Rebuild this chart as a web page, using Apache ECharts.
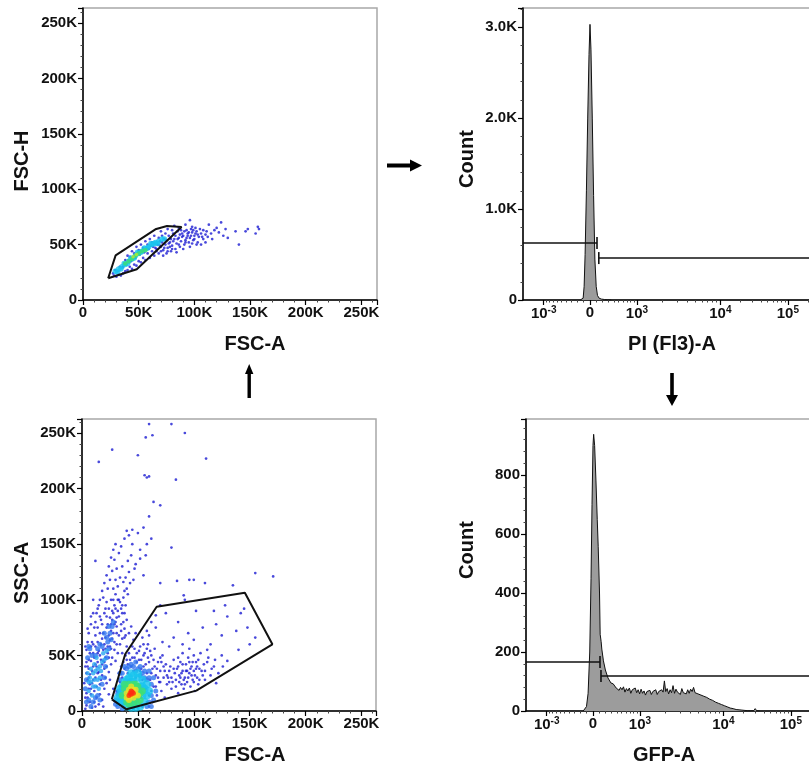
<!DOCTYPE html>
<html><head><meta charset="utf-8">
<script src="https://cdn.jsdelivr.net/npm/echarts@6/dist/echarts.min.js"></script>
<style>html,body{margin:0;padding:0;background:#fff}#c{width:809px;height:769px}</style>
</head><body><div id="c"></div>
<script>
const FONT = '"Liberation Sans", Arial, Helvetica, sans-serif';

// ---------- tick definitions (biexponential axes, in transformed channel units) ----------
const biexTickChannel = [-1.42, 0, 1.44, 4.0, 6.07];
const biexTickLabels = [['10', '-3'], ['0', ''], ['10', '3'], ['10', '4'], ['10', '5']];
const linearMinorValues = [-900,-800,-700,-600,-500,-400,-300,-200,-100,100,200,300,400,500,600,700,800,900];
const decadeMinorMultipliers = [2,3,4,5,6,7,8,9];

// ---------- Panel 1: FSC-H vs FSC-A (values in K) ----------
const p1Low = [27,24,29,27,31,26,33,30,35,29,37,33,39,32,41,36,43,35,45,39,47,38,49,42,51,41,53,44,55,43,57,47,59,46,61,49,63,48,65,51,67,50,69,53,71,52,73,55,75,54,62,44,66,46,68,42,70,48,72,45,74,50,76,47,78,52,80,49,82,55,84,51,86,56,88,53,90,58,92,54,94,60,96,56,98,61,100,58,102,62,104,57,106,60,108,55,110,59,77,58,81,60,85,62,89,60,93,63,97,64,101,65,105,64,64,40,60,38,58,42,56,36,54,38,52,34,50,35,48,31,46,32,44,28,42,30,40,27,38,26,36,24,34,22,32,23,30,21,28,22,79,44,83,46,87,48,91,50,95,52,99,54,103,52,72,40,75,42,68,56,74,60,80,63,86,65,92,68,96,72,98,66,113,68,115,60,118,63,120,65,122,61,126,58,130,56,137,62,140,50,146,62,148,64,158,64,157,66,155,60,110,52,106,50,66,44,70,44,62,52,58,50,54,47,50,45,46,42,42,39,38,36,36,30,40,40,44,44,48,48,52,50,56,53,60,55,64,58,70,62,76,64,82,67,88,63,94,58,100,55,78,48,84,43,90,46,96,48,102,50,108,63,112,57,116,55,124,70,128,64,
  73,47,77,51,81,53,85,55,89,57,93,56,97,58,101,60,69,49,65,47,71,58,79,55,83,58,87,59,91,62,95,61,99,63,103,59,107,57,111,62,76,44,80,46,86,50,92,52,98,51];
const p1Mid = [29,26,32,28,35,30,38,32,41,35,44,37,47,40,50,42,53,44,56,46,59,48,62,50,65,52,68,53,71,55,34,28,40,33,46,38,52,43,58,47,64,51,37,33,43,38,49,43,55,47,61,51,31,25,67,51,73,55];
const p1High = [38,33,41,35,44,37,47,40,50,42,53,44,56,45];
const p1Top = [45,39,48,41];
const p1Gate = [22.6,19.6, 29.3,40.3, 65,63.8, 75.4,66.8, 88.5,65.9, 48.3,27.7];

// ---------- Panel 3: SSC-A vs FSC-A (values in K) ----------
const p3Low = [4,5,5,12,6,20,5,28,7,8,8,15,7,33,9,25,10,40,6,38,8,45,11,18,12,30,10,52,13,22,14,44,12,58,15,35,16,50,14,62,17,28,18,42,16,70,19,55,20,38,18,65,21,48,22,75,20,60,23,52,24,68,22,85,25,58,26,78,24,92,27,65,28,88,26,72,29,95,30,80,28,100,31,70,32,90,30,105,33,85,34,98,32,112,35,78,36,95,34,120,37,102,38,88,36,130,40,110,39,95,42,125,44,140,41,105,46,118,48,132,45,150,50,160,52,145,55,165,58,150,60,175,57,140,62,155,64,188,70,185,56,212,58,210,60,211,84,208,50,230,63,248,92,250,27,235,15,224,111,227,12,135,10,100,8,85,6,70,3,2,4,16,7,52,9,62,11,75,13,88,15,95,17,82,19,102,21,92,23,110,25,118,27,126,29,136,31,128,33,142,35,148,38,155,40,162,43,115,47,128,52,137,55,122,11,8,13,12,15,6,16,15,18,10,20,20,22,25,21,30,24,35,26,42,25,28,27,48,29,55,30,45,31,60,32,52,33,68,34,60,35,72,36,65,37,80,38,74,39,68,40,82,3,40,4,55,5,62,9,3,12,4,2,25,19,4,24,15,28,20,80,147,70,115,85,117,100,118,110,115,135,113,155,124,171,121,45,163,42,158,60,258,80,258,57,246,96,118,91,104,
14,52,17,60,19,45,21,66,23,58,25,84,27,90,29,78,30,92,31,84,33,100,35,92,26,100,28,110,30,118,32,100,22,98,20,88,18,78,16,85,14,75,12,68,10,60,8,58,6,46,4,34,5,40,3,12,7,24,9,36,11,48,13,40,15,54,17,46,19,70,21,56,23,78,25,64,27,82,29,62,31,76,24,48,26,56,28,70,36,88,38,108,39,120,41,135,37,116,
32,8,34,14,35,22,36,30,37,6,38,18,38,38,39,26,40,46,40,10,41,34,42,4,42,52,43,28,44,40,45,6,45,58,46,36,47,48,48,8,48,30,49,44,50,4,50,24,51,54,52,36,53,12,53,46,54,28,55,40,56,6,56,52,57,20,58,34,59,60,60,14,60,44,61,28,62,50,63,8,63,38,64,22,65,56,66,32,67,14,68,44,69,26,70,36,71,18,72,50,73,30,74,12,75,42,76,24,78,36,80,20,82,46,84,28,85,38,86,16,87,32,88,44,89,24,90,36,91,20,92,30,93,42,94,26,95,48,96,34,97,22,98,40,99,28,100,36,101,18,102,44,103,30,104,24,105,38,106,52,108,32,110,28,112,44,72,62,78,58,82,66,90,60,95,70,86,80,100,64,108,75,115,60,120,78,125,68,130,85,138,72,142,88,148,75,150,60,155,66,118,90,128,95,102,90,92,100,75,88,66,75,60,68,70,95,145,92,140,55,125,50,118,40,130,45,112,55,115,32,120,25,
83,34,86,40,88,30,90,42,92,24,94,36,96,44,98,32,100,26,102,38,104,46,81,26,79,40,77,30,74,36,71,44,68,30,65,40,62,34,59,48,57,42,55,50,53,38,51,46,49,52,47,56,45,48,43,46,41,42,39,50,37,44,35,40,33,34,34,26,31,18,33,10,58,8,62,18,66,22,70,26,60,4,54,4,46,2,38,3,
84,22,87,26,89,34,91,28,93,36,95,30,97,38,99,44,101,32,103,40,105,28,107,36,109,42,82,38,80,30,78,26,76,32,73,40,70,48,67,38,64,46,61,54,58,56,55,60,52,58,46,64,40,58,36,52,38,66,42,70,44,76,48,70,54,66,58,72,62,80,66,86,110,36,113,48,116,38,119,46,122,34,126,40,100,50,96,56,90,52,86,48,22,40,20,44,18,32,16,24,14,34,12,42,10,28,8,20,6,30,4,44,3,58,5,74,8,78,10,88,12,80,14,92,16,100,18,108,20,115,22,122,24,130,26,138,28,145,30,150];
const p3Halo = [30,10,32,4,33,18,34,28,36,34,38,40,40,38,42,40,44,42,46,40,48,36,50,38,52,32,54,34,56,30,58,28,60,30,62,24,62,14,64,10,60,8,58,4,62,4,36,2,32,16,30,6,56,36,52,40,48,44,60,36,64,30,66,18,34,34,
  4,8,3,20,4,28,6,10,8,4,5,48,7,56,9,50,10,8,12,12,14,14,16,10,18,24,20,30,21,40,22,48,23,62,24,56,25,70,26,64,18,58,16,60,14,56,12,50,20,70,22,66,27,76,28,80,24,76,6,58];
const p3DebrisCore = [6,18,8,26,10,34,12,22,14,38,16,30,9,14,11,42,14,28,7,30,18,44,13,48,17,36,10,22,15,20,19,52,8,38,12,36,20,46,22,54,6,26,5,34,11,28,16,40];
const p3Mid = [32,12,34,20,36,8,38,26,40,4,42,30,46,32,50,30,54,28,56,20,58,14,56,8,52,4,48,3,44,3,36,16,38,10,46,26,52,22,40,20,48,10,54,14,34,8,58,24,44,34,40,28,36,22,50,34,54,22,60,18,42,8,46,6,50,18,44,26,34,14];
const p3High = [36,14,38,20,40,8,42,24,46,24,50,22,52,16,50,8,46,7,40,14,44,20,48,14,38,24,54,18,48,24,42,6,52,10];
const p3Top = [40,12,42,19,46,19,48,19,46,12,42,10,44,14,48,15,40,16,44,22,50,14];
const p3Peak = [43,16,45,17,44,15,42,14,46,16,44,18];
const p3Gate = [26.7,10.5, 38.7,51.3, 66.8,93.8, 145.7,106.4, 170.3,60, 102.3,18.3, 39.8,1.5];

// ---------- Panel 2: PI histogram (transformed channel, count) ----------
const piChannel = [-0.30,-0.25,-0.21,-0.18,-0.15,-0.11,-0.07,-0.03,0,0.03,0.07,0.11,0.15,0.19,0.23,0.28,0.35,0.45,0.55,0.65];
const piCount   = [0,0,20,150,500,1200,2000,2700,3030,2750,2000,1150,450,150,50,20,10,5,3,0];
const piGateNeg = [-2.06, 0.215, 626];
const piGatePos = [0.27, 8, 461];

// ---------- Panel 4: GFP histogram (transformed channel, count) ----------
const gfpChannel = [-0.30,-0.25,-0.20,-0.15,-0.10,-0.06,-0.03,0,0.02,0.05,0.09,0.13,0.16,0.20,0.22,0.25,0.27,0.32,0.38,0.46,0.55,
 0.62,0.665,0.71,0.755,0.80,0.845,0.89,0.935,0.98,1.025,1.07,1.115,1.16,1.205,1.25,1.295,1.34,1.385,1.43,1.475,1.52,1.565,1.61,1.655,1.70,1.745,1.79,1.835,1.88,1.925,1.97,2.015,2.06,2.105,2.15,2.19,2.23,2.275,2.32,2.365,2.41,2.455,2.50,2.545,2.59,2.635,2.68,2.725,2.77,2.815,2.86,2.905,2.95,2.995,3.04,3.085,3.13,3.175,3.22,3.265,3.31,3.355,3.40,3.445,3.49,3.535,3.58,3.625,3.67,3.715,3.76,3.805,3.85,3.895,3.94,3.985,4.03,4.075,4.12,4.165,4.21,4.255,4.30,4.345,4.39,4.435,4.48,4.525,4.57,4.615,4.66,4.705,4.75,4.795,4.84,4.885,4.93,4.975,5.02,5.065,5.11];
const gfpCount = [0,2,15,60,200,450,700,900,938,900,783,650,557,400,260,235,210,170,139,112,95,
 92,96,78,84,70,80,72,82,64,76,68,78,60,72,66,78,62,72,58,74,60,68,54,66,60,70,56,66,60,72,56,66,62,72,64,102,66,76,58,72,62,86,60,74,64,70,56,76,62,68,58,72,60,74,66,80,62,68,58,62,54,58,50,54,46,48,40,44,36,38,30,32,26,28,22,24,18,20,14,15,10,12,8,9,5,7,4,6,3,4,2,3,1,2,1,2,1,8,1,1,0];
const gfpGateNeg = [-2.06, 0.215, 166];
const gfpGatePos = [0.245, 8, 119];

// ---------- helpers ----------
const pairs = f => { const o = []; for (let i = 0; i < f.length; i += 2) o.push([f[i], f[i + 1]]); return o; };
const closed = f => { const p = pairs(f); p.push(p[0]); return p; };
const zip = (a, b) => a.map((v, i) => [v, b[i]]);
const majorPos = biexTickChannel;
// minor ticks: arcsinh spacing in the linear zone, log spacing within each decade
const minorPos = linearMinorValues.map(v => Math.asinh(v / 500));
[[2, 3], [3, 4]].forEach(([a, b]) => decadeMinorMultipliers.forEach(m =>
  minorPos.push(majorPos[a] + (majorPos[b] - majorPos[a]) * Math.log10(m))));
minorPos.push(majorPos[4] + (majorPos[4] - majorPos[3]) * Math.log10(2));

const lab = {fontFamily: FONT, fontWeight: 'bold', fontSize: 15, color: '#111'};
const axisLineBlack = {show: true, onZero: false, lineStyle: {color: '#000', width: 1.5}};

function linX(grid, max) {
  return {gridIndex: grid, type: 'value', min: 0, max: max, interval: 50,
    axisLine: axisLineBlack, splitLine: {show: false},
    axisTick: {length: 5, lineStyle: {color: '#000', width: 1.2}},
    minorTick: {show: true, splitNumber: 5, length: 2.5, lineStyle: {color: '#444'}},
    axisLabel: Object.assign({margin: 5, showMaxLabel: false, formatter: v => v === 0 ? '0' : v + 'K'}, lab)};
}
function linY(grid, max, interval, fmt) {
  return {gridIndex: grid, type: 'value', min: 0, max: max, interval: interval,
    axisLine: axisLineBlack, splitLine: {show: false},
    axisTick: {length: 5, lineStyle: {color: '#000', width: 1.2}},
    minorTick: {show: true, splitNumber: 5, length: 2.5, lineStyle: {color: '#444'}},
    axisLabel: Object.assign({margin: 6, showMaxLabel: false, formatter: fmt}, lab)};
}
function biexLabel(v) {
  const i = majorPos.findIndex(p => Math.abs(p - v) < 1e-6);
  if (i < 0) return '';
  const t = biexTickLabels[i];
  return t[1] ? '{b|' + t[0] + '}{s|' + t[1] + '}' : '{b|' + t[0] + '}';
}
function biexX(grid) {
  return [{gridIndex: grid, type: 'value', min: -2.055, max: 7.147, position: 'bottom',
    axisLine: axisLineBlack, splitLine: {show: false},
    axisTick: {customValues: majorPos, length: 5, lineStyle: {color: '#000', width: 1.2}},
    axisLabel: {customValues: majorPos, margin: 5, formatter: biexLabel,
      rich: {b: Object.assign({}, lab), s: Object.assign({}, lab, {fontSize: 10, padding: [0, 0, 8, 0]})}}},
   {gridIndex: grid, type: 'value', min: -2.055, max: 7.147, position: 'bottom',
    axisLine: {show: false, onZero: false}, splitLine: {show: false}, axisLabel: {show: false},
    axisTick: {customValues: minorPos, length: 2.5, lineStyle: {color: '#444', width: 1}}}];
}

function dots(xi, yi, flat, color, size, z) {
  return {type: 'scatter', xAxisIndex: xi, yAxisIndex: yi, data: pairs(flat), symbolSize: size,
    itemStyle: {color: color}, silent: true, z: z, animation: false};
}
function poly(xi, yi, flat) {
  return {type: 'line', xAxisIndex: xi, yAxisIndex: yi, data: closed(flat), showSymbol: false,
    lineStyle: {color: '#111', width: 2}, silent: true, z: 10, animation: false};
}
function hist(xi, yi, xs, ys) {
  return {type: 'line', xAxisIndex: xi, yAxisIndex: yi, data: zip(xs, ys), showSymbol: false,
    lineStyle: {color: '#111', width: 1}, areaStyle: {color: '#9c9c9c', opacity: 1},
    silent: true, z: 3, animation: false};
}
function gate(xi, yi, g) {
  return {type: 'line', xAxisIndex: xi, yAxisIndex: yi, data: [[g[0], g[2]], [g[1], g[2]]],
    symbol: 'rect', symbolSize: [1.6, 12], showSymbol: true, itemStyle: {color: '#111'},
    lineStyle: {color: '#111', width: 1.5}, silent: true, z: 8, animation: false};
}

const C_BLUE = '#1c1cd2', C_HALO = '#2f74ee', C_LBLUE = '#2aa6f0', C_CYAN = '#19c4ee', C_GREEN = '#3fe070', C_YEL = '#f0e020', C_RED = '#ff2a10';

const gridBase = {show: true, borderColor: '#a8a8a8', borderWidth: 1.5, containLabel: false, outerBoundsMode: 'none'};
const option = {
  animation: false,
  backgroundColor: '#fff',
  grid: [
    Object.assign({left: 83, top: 8, width: 294, height: 292}, gridBase),
    Object.assign({left: 523, top: 8, width: 300, height: 292}, gridBase),
    Object.assign({left: 82, top: 419, width: 294, height: 292}, gridBase),
    Object.assign({left: 526, top: 419, width: 300, height: 292}, gridBase)
  ],
  // xAxis indices: 0 panel1, 1-2 panel2, 3 panel3, 4-5 panel4
  xAxis: [linX(0, 264)].concat(biexX(1), [linX(2, 263)], biexX(3)),
  yAxis: [
    linY(0, 263.5, 50, v => v === 0 ? '0' : v + 'K'),
    linY(1, 3210, 1000, v => v === 0 ? '0' : (v / 1000).toFixed(1) + 'K'),
    linY(2, 262.6, 50, v => v === 0 ? '0' : v + 'K'),
    linY(3, 990, 200, v => String(v))
  ],
  series: [
    dots(0, 0, p1Low, C_BLUE, 2.7, 2),
    dots(0, 0, p1Mid, C_CYAN, 5.5, 3),
    dots(0, 0, p1High, C_GREEN, 4.5, 4),
    dots(0, 0, p1Top, '#b8e830', 3.5, 5),
    poly(0, 0, p1Gate),

    hist(1, 1, piChannel, piCount),
    gate(1, 1, piGateNeg),
    gate(1, 1, piGatePos),

    dots(3, 2, p3Low, C_BLUE, 2.7, 2),
    dots(3, 2, p3Halo, C_HALO, 5, 2),
    dots(3, 2, p3DebrisCore, C_LBLUE, 4.5, 3),
    dots(3, 2, p3Mid, C_CYAN, 8, 3),
    dots(3, 2, p3High, C_GREEN, 7, 4),
    dots(3, 2, p3Top, C_YEL, 6, 5),
    dots(3, 2, p3Peak, C_RED, 5, 6),
    poly(3, 2, p3Gate),

    hist(4, 3, gfpChannel, gfpCount),
    gate(4, 3, gfpGateNeg),
    gate(4, 3, gfpGatePos)
  ],
  graphic: [
    {type: 'text', x: 22, y: 161, rotation: Math.PI / 2, style: {text: 'FSC-H', font: 'bold 20px ' + FONT, fill: '#111', align: 'center', verticalAlign: 'middle'}},
    {type: 'text', x: 255, y: 344, style: {text: 'FSC-A', font: 'bold 20px ' + FONT, fill: '#111', align: 'center', verticalAlign: 'middle'}},
    {type: 'text', x: 467, y: 159, rotation: Math.PI / 2, style: {text: 'Count', font: 'bold 20px ' + FONT, fill: '#111', align: 'center', verticalAlign: 'middle'}},
    {type: 'text', x: 672, y: 344, style: {text: 'PI (Fl3)-A', font: 'bold 20px ' + FONT, fill: '#111', align: 'center', verticalAlign: 'middle'}},
    {type: 'text', x: 22, y: 573, rotation: Math.PI / 2, style: {text: 'SSC-A', font: 'bold 20px ' + FONT, fill: '#111', align: 'center', verticalAlign: 'middle'}},
    {type: 'text', x: 255, y: 755, style: {text: 'FSC-A', font: 'bold 20px ' + FONT, fill: '#111', align: 'center', verticalAlign: 'middle'}},
    {type: 'text', x: 467, y: 550, rotation: Math.PI / 2, style: {text: 'Count', font: 'bold 20px ' + FONT, fill: '#111', align: 'center', verticalAlign: 'middle'}},
    {type: 'text', x: 664, y: 755, style: {text: 'GFP-A', font: 'bold 20px ' + FONT, fill: '#111', align: 'center', verticalAlign: 'middle'}},
    {type: 'polygon', shape: {points: [[387, 163.5], [410, 163.5], [410, 159.5], [422, 165.5], [410, 171.5], [410, 167.5], [387, 167.5]]}, style: {fill: '#000'}},
    {type: 'polygon', shape: {points: [[247.5, 398], [247.5, 374], [245, 374], [249.2, 364], [253.4, 374], [250.9, 374], [250.9, 398]]}, style: {fill: '#000'}},
    {type: 'polygon', shape: {points: [[670.2, 373], [673.8, 373], [673.8, 395], [678, 395], [672, 406], [666, 395], [670.2, 395]]}, style: {fill: '#000'}}
  ]
};
const chart = echarts.init(document.getElementById('c'), null, {renderer: 'canvas', width: 809, height: 769});
chart.setOption(option);
</script>
</body></html>
